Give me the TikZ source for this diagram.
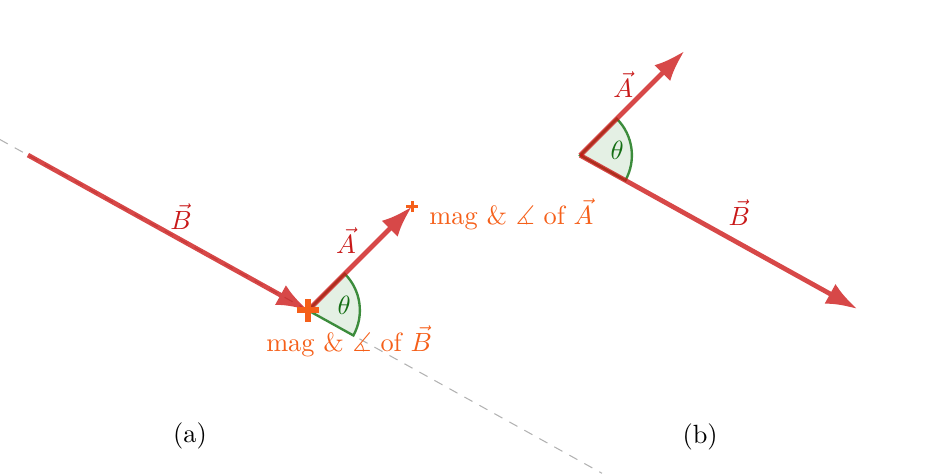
\documentclass[tikz,border=0pt]{standalone}
\usepackage{amsmath, amssymb}
\usetikzlibrary{arrows.meta, calc, positioning}
\definecolor{vecred}{RGB}{204,20,20}
\definecolor{labred}{RGB}{200,25,25}
\definecolor{magorange}{RGB}{245,95,25}
\definecolor{angfill}{RGB}{228,240,228}
\definecolor{angline}{RGB}{60,140,60}
\definecolor{anglab}{RGB}{20,110,20}

\begin{document}
\begin{tikzpicture}[
		vec/.style={draw=vecred, line width=1.8pt, -{Latex[length=4.2mm, width=3mm]}},
		vecgroup/.style={transparency group, opacity=.78},
		angsector/.style={draw=angline, fill=angfill, line width=0.9pt},
		guide/.style={draw=black!30, line width=0.4pt, dash pattern=on 3.5pt off 3pt},
		veclabel/.style={text=labred},
		anglabel/.style={text=anglab},
		maglabel/.style={text=magorange},
		plusmark/.style={draw=magorange, line width=#1},
		plusmark/.default=2.2pt
		]
	
		\def\bang{-29}
		\def\aang{45}
		\def\rad{0.69}
	
		\useasboundingbox (0,0) rectangle (12.61,6.31);
	
		% --- (a) ---
		\coordinate (Oa) at (4.107,2.173);
		\coordinate (Ba) at ($(Oa)+(\bang+180:4.27)$);
		\coordinate (Aa) at ($(Oa)+(\aang:1.96)$);
		\coordinate (Ga) at ($(Oa)+(\bang+180:4.70)$);
		\coordinate (Ha) at ($(Oa)+(\bang:4.48)$);
	
		\draw[guide] (Ga) -- (Ha);
		\draw[angsector] (Oa) -- ($(Oa)+(\bang:\rad)$) arc[start angle=\bang, end angle=\aang, radius=\rad] -- cycle;
		\begin{scope}[vecgroup]
			\draw[vec] (Ba) -- (Oa);
		\end{scope}
		\begin{scope}[vecgroup]
			\draw[vec] (Oa) -- (Aa);
		\end{scope}
	
		\draw[plusmark] ($(Oa)+(-0.15,0)$) -- ($(Oa)+(0.15,0)$);
		\draw[plusmark] ($(Oa)+(0,-0.15)$) -- ($(Oa)+(0,0.15)$);
		\draw[plusmark=1.1pt] ($(Aa)+(-0.075,0)$) -- ($(Aa)+(0.075,0)$);
		\draw[plusmark=1.1pt] ($(Aa)+(0,-0.075)$) -- ($(Aa)+(0,0.075)$);
	
		\node[veclabel] (labBa) at (2.413,3.427) {$\vec{B}$};
		\node[veclabel] (labAa) at (4.613,3.107) {$\vec{A}$};
		\node[anglabel] (thA) at (4.587,2.24) {$\theta$};
		\node[maglabel, anchor=west] (magA) at (5.6,3.45) {mag \& $\measuredangle$ of $\vec{A}$};
		\node[maglabel] (magB) at (4.653,1.76) {mag \& $\measuredangle$ of $\vec{B}$};
		\node (capA) at (2.533,0.493) {(a)};
	
		% --- (b) ---
		\coordinate (Ob) at (7.733,4.24);
		\coordinate (Ab) at ($(Ob)+(\aang:1.97)$);
		\coordinate (Bb) at ($(Ob)+(\bang:4.23)$);
	
		\draw[angsector] (Ob) -- ($(Ob)+(\bang:\rad)$) arc[start angle=\bang, end angle=\aang, radius=\rad] -- cycle;
		\begin{scope}[vecgroup]
			\draw[vec] (Ob) -- (Ab);
		\end{scope}
		\begin{scope}[vecgroup]
			\draw[vec] (Ob) -- (Bb);
		\end{scope}
	
		\node[veclabel] (labAb) at (8.307,5.187) {$\vec{A}$};
		\node[anglabel] (thB) at (8.227,4.307) {$\theta$};
		\node[veclabel] (labBb) at (9.853,3.48) {$\vec{B}$};
		\node (capB) at (9.333,0.48) {(b)};
	
	\end{tikzpicture}
\end{document}
